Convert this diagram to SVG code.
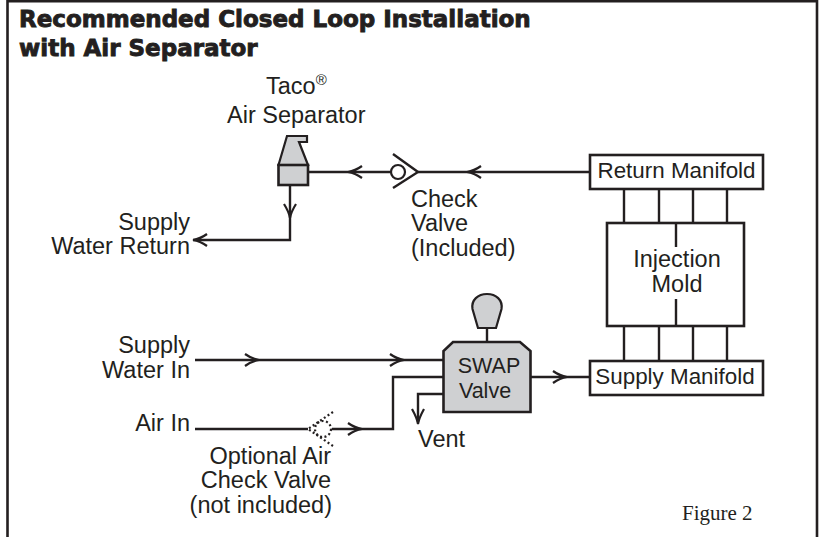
<svg xmlns="http://www.w3.org/2000/svg" width="819" height="537" viewBox="0 0 819 537">
<style>
.t{font-family:"Liberation Sans",Arial,sans-serif;font-size:23.5px;fill:#231f20}
.s{font-size:22.4px}
.v{font-size:21.5px}
.m{text-anchor:middle}.e{text-anchor:end}
.h{font-family:"DejaVu Sans",sans-serif;font-weight:bold;font-size:23px;fill:#231f20;stroke:#231f20;stroke-width:.9}
.l{fill:none;stroke:#231f20;stroke-width:2.4}
.b{fill:#fff;stroke:#231f20;stroke-width:2.600}
.g{fill:#cfd0d2;stroke:#231f20;stroke-width:2.600}
.a{fill:none;stroke:#231f20;stroke-width:2.2}
.d{fill:none;stroke:#231f20;stroke-width:2.2;stroke-dasharray:2 2.5}
</style>
<rect width="819" height="537" fill="#fff"/>
<path class="l" d="M7.500 537V1.300H817V537" style="stroke-width:2.600"/>
<text class="h" x="19" y="27">Recommended Closed Loop Installation</text>
<text class="h" x="19" y="56">with Air Separator</text>
<g id="connectors">
<path class="l" d="M308 172H393M418 172H590"/>
<path class="l" d="M290 185V240H193"/>
<path class="l" d="M195 360H443"/>
<path class="l" d="M195 429H308M332 429H393V377H443"/>
<path class="l" d="M443 394H418V422"/>
<path class="l" d="M530 377H590"/>
<path class="l" d="M487 328V342"/>
<path class="a" d="M362 166Q355 171 348 172Q355 173 362 178M481 166Q474 171 467 172Q474 173 481 178M296 204Q291 212 290 218Q289 212 284 204M207 234Q200 239 193 240Q200 241 207 246M245 354Q252 359 259 360Q252 361 245 366M390 354Q397 359 404 360Q397 361 390 366M348 423Q355 428 362 429Q355 430 348 435M553 371Q560 376 567 377Q560 378 553 383M424 409Q419 418 418 424Q417 418 412 409"/>
<path class="l" d="M624 189V223M659 189V223M693 189V223M727 189V223M624 326V361M659 326V361M693 326V361M727 326V361"/>
</g>
<g id="air-separator">
<path class="g" d="M278.500 165L287 136H307V142H299L308 165Z" style="stroke-width:2.200"/>
<rect class="g" x="278.500" y="165" width="29.500" height="20"/>
<text class="t" x="266" y="94">Taco<tspan font-size="15" dy="-9">®</tspan></text>
<text class="t" x="227" y="123">Air Separator</text>
</g>
<g id="check-valve">
<circle cx="398" cy="172" r="7" fill="#fff" stroke="#231f20" stroke-width="2.200"/>
<path class="l" d="M393 154L418 172L393 188"/>
<text class="t" x="411" y="207">Check</text><text class="t" x="411" y="231">Valve</text><text class="t" x="411" y="256">(Included)</text>
</g>
<g id="return-manifold"><rect class="b" x="590" y="155" width="173" height="34"/><text class="t s m" x="676.500" y="178">Return Manifold</text></g>
<g id="injection-mold"><rect class="b" x="607" y="223" width="137" height="103"/><path class="l" d="M676 223V247M676 299V326"/><text class="t m" x="677" y="267">Injection</text><text class="t m" x="677" y="292">Mold</text></g>
<g id="supply-manifold"><rect class="b" x="590" y="361" width="173" height="34"/><text class="t s m" x="675" y="384">Supply Manifold</text></g>
<g id="swap-valve">
<path class="g" d="M453 342H520L530.500 351V412H443.500V351Z"/>
<path class="g" d="M478 328L472.500 309C471 300 478 294 487 294C496 294 503 300 501.500 309L496 328Z" style="stroke-width:2.200"/>
<text class="t v m" x="489" y="373">SWAP</text><text class="t v m" x="485" y="398">Valve</text>
</g>
<g id="optional-check-valve">
<path class="d" d="M333 412L308 429L333 446"/>
<circle cx="323" cy="429" r="8" class="d"/>
<text class="t e" x="331" y="464">Optional Air</text><text class="t e" x="331" y="488">Check Valve</text><text class="t e" x="332" y="513">(not included)</text>
</g>
<g id="labels">
<text class="t e" x="190" y="230">Supply</text><text class="t e" x="190" y="254">Water Return</text>
<text class="t e" x="190" y="353">Supply</text><text class="t e" x="190" y="378">Water In</text>
<text class="t e" x="190" y="431">Air In</text>
<text class="t" x="418" y="447">Vent</text>
<text x="682" y="520" font-family="Liberation Serif,serif" font-size="21" fill="#231f20">Figure 2</text>
</g>
</svg>
